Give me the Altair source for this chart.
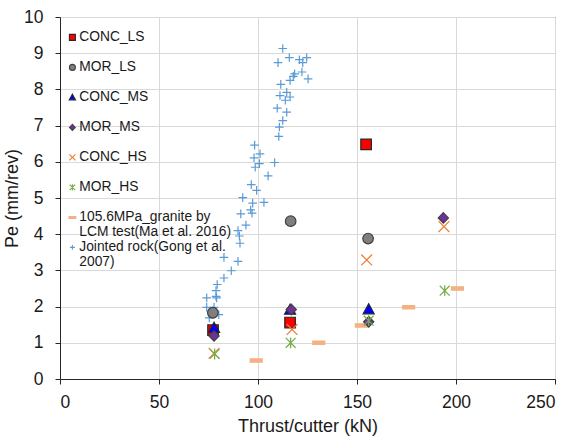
import altair as alt
import pandas as pd

# Series names (legend order)
series_names = [
    "CONC_LS",
    "MOR_LS",
    "CONC_MS",
    "MOR_MS",
    "CONC_HS",
    "MOR_HS",
    "105.6MPa_granite by\nLCM test(Ma et al. 2016)",
    "Jointed rock(Gong et al.\n2007)",
]

# Thrust per cutter (kN) and penetration (mm/rev) for each series
conc_ls_x = [77.3, 116.2, 154.6]
conc_ls_y = [1.35, 1.56, 6.48]
mor_ls_x = [77.2, 116.5, 155.6]
mor_ls_y = [1.83, 4.36, 3.88]
conc_ms_x = [77.8, 116.2, 155.9]
conc_ms_y = [1.41, 1.91, 1.92]
mor_ms_x = [77.8, 116.8, 155.9, 193.6]
mor_ms_y = [1.19, 1.92, 1.58, 4.45]
conc_hs_x = [77.8, 117.2, 154.9, 193.9]
conc_hs_y = [0.71, 1.37, 3.29, 4.21]
mor_hs_x = [78.1, 116.5, 155.9, 194.3]
mor_hs_y = [0.69, 1.00, 1.61, 2.44]
lcm_x = [99.1, 130.7, 152.2, 176.1, 200.7]
lcm_y = [0.51, 1.00, 1.48, 1.98, 2.50]
gong_x = [112.5, 115.8, 110.1, 120.9, 124.6, 122.6, 118.5, 122.2, 125.3, 116.2,
          117.8, 111.5, 114.5, 111.1, 116.2, 113.8, 109.7, 114.5, 112.5, 110.8,
          110.5, 98.3, 101.0, 98.0, 100.7, 108.4, 98.6, 105.1, 96.6, 99.3,
          92.3, 97.3, 103.0, 96.3, 97.0, 91.3, 93.9, 89.9, 90.6, 90.9,
          82.8, 89.9, 86.5, 82.8, 79.4, 78.8, 74.1, 78.8, 79.1, 74.1,
          77.8, 75.4, 80.2]
gong_y = [9.13, 8.88, 8.74, 8.82, 8.88, 8.74, 8.43, 8.48, 8.29, 8.25,
          8.36, 8.14, 7.92, 7.83, 7.79, 7.70, 7.48, 7.37, 7.14, 6.96,
          6.70, 6.46, 6.22, 6.11, 5.95, 5.98, 5.85, 5.61, 5.37, 5.21,
          5.01, 4.86, 4.88, 4.67, 4.58, 4.56, 4.25, 4.10, 3.95, 3.75,
          3.36, 3.25, 2.99, 2.79, 2.61, 2.44, 2.24, 2.28, 2.24, 1.98,
          1.98, 1.69, 1.78]

# Marker glyphs as unit-box SVG paths
shape_paths = [
    "M-0.88,-0.88H0.88V0.88H-0.88Z",
    "M-0.88,0A0.88,0.88,0,1,1,0.88,0A0.88,0.88,0,1,1,-0.88,0Z",
    "M0,-0.95L0.92,0.72L-0.92,0.72Z",
    "M0,-0.88L0.85,0L0,0.88L-0.85,0Z",
    "M-0.9,-0.9L0.9,0.9M-0.9,0.9L0.9,-0.9",
    "M-0.82,-0.82L0.82,0.82M-0.82,0.82L0.82,-0.82M0,-0.9L0,0.9",
    "M-1,-0.28H1V0.28H-1Z",
    "M-0.72,0H0.72M0,-0.72V0.72",
]
fill_colors = ["#FF0000", "#7F7F7F", "#0000FF", "#7030A0",
               "transparent", "transparent", "#F4B183", "transparent"]
stroke_colors = ["#262626", "#404040", "#262626", "#404040",
                 "#ED7D31", "#70AD47", "#F4B183", "#5B9BD5"]

# Drawing order: jointed rock first, then LCM test, then the cutter series
groups = [
    (series_names[7], gong_x, gong_y),
    (series_names[6], lcm_x, lcm_y),
    (series_names[0], conc_ls_x, conc_ls_y),
    (series_names[1], mor_ls_x, mor_ls_y),
    (series_names[2], conc_ms_x, conc_ms_y),
    (series_names[3], mor_ms_x, mor_ms_y),
    (series_names[4], conc_hs_x, conc_hs_y),
    (series_names[5], mor_hs_x, mor_hs_y),
]
rows = []
for name, xs, ys in groups:
    for xv, yv in zip(xs, ys):
        rows.append({"series": name, "thrust": xv, "pe": yv})
df = pd.DataFrame(rows)

FONT = "Liberation Sans"

# Every legend entry occupies two text lines, so the row pitch stays even
legend = alt.Legend(
    title=None,
    orient="none",
    legendX=5.5,
    legendY=13.5,
    padding=0,
    symbolSize=46,
    symbolStrokeWidth=1.1,
    labelFont=FONT,
    labelFontSize=13.8,
    labelColor="#1a1a1a",
    labelOffset=0,
    labelLimit=300,
    rowPadding=0,
    labelExpr="indexof(datum.label, '\\n') >= 0 ? split(datum.label, '\\n') : [datum.label, '']",
)

chart = alt.Chart(df).mark_point(
    opacity=1, size=144, strokeWidth=1.2
).encode(
    x=alt.X(
        "thrust:Q",
        scale=alt.Scale(domain=[0, 250], nice=False),
        axis=alt.Axis(values=[0, 50, 100, 150, 200, 250], title="Thrust/cutter (kN)",
                      labelPadding=9, titlePadding=7),
    ),
    y=alt.Y(
        "pe:Q",
        scale=alt.Scale(domain=[0, 10], nice=False),
        axis=alt.Axis(values=list(range(0, 11)), title="Pe (mm/rev)",
                      labelPadding=12, titlePadding=2),
    ),
    shape=alt.Shape("series:N", scale=alt.Scale(domain=series_names, range=shape_paths), legend=legend),
    fill=alt.Fill("series:N", scale=alt.Scale(domain=series_names, range=fill_colors), legend=legend),
    stroke=alt.Stroke("series:N", scale=alt.Scale(domain=series_names, range=stroke_colors), legend=legend),
).properties(
    width=495,
    height=362,
    autosize="none",
    padding={"left": 60, "top": 17, "right": 16, "bottom": 58},
).configure(
    style={"guide-label": {"lineHeight": 15.1}}
).configure_view(
    stroke="#262626", strokeWidth=1
).configure_axis(
    grid=True,
    gridColor="#D9D9D9",
    gridWidth=1,
    domainColor="#262626",
    tickColor="#262626",
    tickSize=5,
    labelFont=FONT,
    labelFontSize=17.5,
    labelColor="#1a1a1a",
    titleFont=FONT,
    titleFontSize=18,
    titleFontWeight="normal",
    titleColor="#1a1a1a",
)

chart.save("out.html", embed_options={"renderer": "svg", "actions": False})
